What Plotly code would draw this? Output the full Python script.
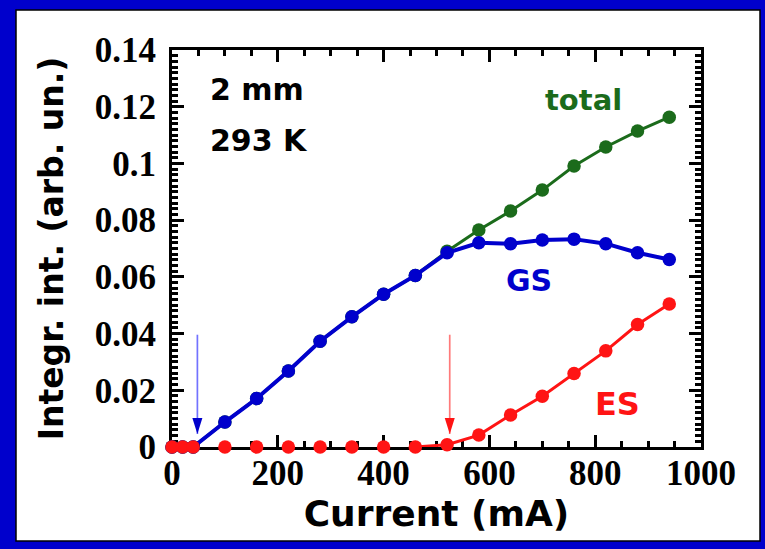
import plotly.graph_objects as go

# Injection current (mA)
current = [0, 20, 40, 100, 160, 220, 280, 340, 400, 460, 520,
           580, 640, 700, 760, 820, 880, 940]

# Integrated intensity (arb. un.)
total = [0, 0, 0, 0.0088, 0.0171, 0.0268, 0.0373, 0.0459, 0.0539, 0.0605, 0.0690,
         0.0765, 0.0832, 0.0906, 0.0991, 0.1058, 0.1114, 0.1163]
gs = [0, 0, 0, 0.0088, 0.0171, 0.0268, 0.0373, 0.0459, 0.0539, 0.0605, 0.0685,
      0.0720, 0.0717, 0.0730, 0.0733, 0.0717, 0.0685, 0.0661]
es = [0, 0, 0, 0, 0, 0, 0, 0, 0, 0, 0.0008,
      0.0042, 0.0113, 0.0179, 0.0259, 0.0339, 0.0432, 0.0504]

# lasing thresholds marked with arrows (mA)
gs_threshold = 48
es_threshold = 525
arrow_top = 0.0396
arrow_tip = 0.0046

GREEN = "#1b6b1b"
BLUE = "#0000cc"
RED = "#ff1414"

W, H = 765, 549
ML, MR, MT, MB = 172, 64, 50, 102
PW, PH = W - ML - MR, H - MT - MB

fig = go.Figure()

fig.add_trace(go.Scatter(x=current, y=total, mode="lines+markers",
                         line=dict(color=GREEN, width=3),
                         marker=dict(color=GREEN, size=13.5),
                         cliponaxis=False, showlegend=False))
fig.add_trace(go.Scatter(x=current, y=gs, mode="lines+markers",
                         line=dict(color=BLUE, width=4),
                         marker=dict(color=BLUE, size=13.5),
                         cliponaxis=False, showlegend=False))
# ES line only where the signal rises off zero; markers everywhere
es_start = current.index(460)
fig.add_trace(go.Scatter(x=current[es_start:], y=es[es_start:], mode="lines",
                         line=dict(color=RED, width=3),
                         cliponaxis=False, showlegend=False))
fig.add_trace(go.Scatter(x=current, y=es, mode="markers",
                         marker=dict(color=RED, size=13.5),
                         cliponaxis=False, showlegend=False))

# threshold arrows
for xa, lc, hc in [(gs_threshold, "#7272ff", BLUE), (es_threshold, "#ff7a7a", RED)]:
    fig.add_shape(type="line", xref="x", yref="y", x0=xa, x1=xa,
                  y0=arrow_top, y1=arrow_tip, line=dict(color=lc, width=1.7))
    fig.add_shape(type="path", xref="x", yref="y",
                  xsizemode="pixel", ysizemode="pixel",
                  xanchor=xa, yanchor=arrow_tip,
                  path="M0,0 L-5,16 L5,16 Z",
                  fillcolor=hc, line=dict(width=0))

# white panel inside the blue frame
fig.add_shape(type="rect", xref="paper", yref="paper", layer="below",
              x0=(16 - ML) / PW, x1=(760 - ML) / PW,
              y0=(MT + PH - 541) / PH, y1=(MT + PH - 10) / PH,
              fillcolor="white", line=dict(color="black", width=1.5))

label_font = dict(family="DejaVu Sans", size=30, weight="bold")
fig.add_annotation(x=68, y=0.1262, xref="x", yref="y", text="2 mm",
                   showarrow=False, xanchor="left", yanchor="middle",
                   font=dict(label_font, color="black"))
fig.add_annotation(x=68, y=0.1082, xref="x", yref="y", text="293 K",
                   showarrow=False, xanchor="left", yanchor="middle",
                   font=dict(label_font, color="black"))
fig.add_annotation(x=777, y=0.1225, xref="x", yref="y", text="total",
                   showarrow=False, xanchor="center", yanchor="middle",
                   font=dict(label_font, color=GREEN, size=29))
fig.add_annotation(x=674, y=0.0586, xref="x", yref="y", text="GS",
                   showarrow=False, xanchor="center", yanchor="middle",
                   font=dict(label_font, color=BLUE, size=30))
fig.add_annotation(x=842, y=0.0151, xref="x", yref="y", text="ES",
                   showarrow=False, xanchor="center", yanchor="middle",
                   font=dict(label_font, color=RED, size=32))

tick_font = dict(family="Liberation Serif, Times New Roman, serif", size=35,
                 weight="bold", color="black")
axis_common = dict(showgrid=False, zeroline=False, showline=True,
                   linecolor="black", linewidth=3, mirror="ticks",
                   ticks="inside", ticklen=12, tickwidth=3, tickcolor="black",
                   tickfont=tick_font, layer="below traces")

fig.update_xaxes(range=[0, 1000], tick0=0, dtick=200, ticklabelstandoff=-7,
                 minor=dict(dtick=50, ticks="inside", ticklen=6, tickwidth=2.5,
                            tickcolor="black", showgrid=False),
                 title=dict(text="Current (mA)", standoff=0,
                            font=dict(family="DejaVu Sans", size=36,
                                      weight="bold", color="black")),
                 **axis_common)
fig.update_yaxes(range=[0, 0.14], tick0=0, dtick=0.02, ticklabelstandoff=6,
                 minor=dict(dtick=0.002, ticks="inside", ticklen=6, tickwidth=2.5,
                            tickcolor="black", showgrid=False),
                 title=dict(text="Integr. int. (arb. un.)", standoff=22,
                            font=dict(family="DejaVu Sans", size=33,
                                      weight="bold", color="black")),
                 **axis_common)

fig.update_layout(width=W, height=H,
                  margin=dict(l=ML, r=MR, t=MT, b=MB, autoexpand=False),
                  paper_bgcolor=BLUE, plot_bgcolor="white",
                  showlegend=False)

fig.write_html("out.html")
